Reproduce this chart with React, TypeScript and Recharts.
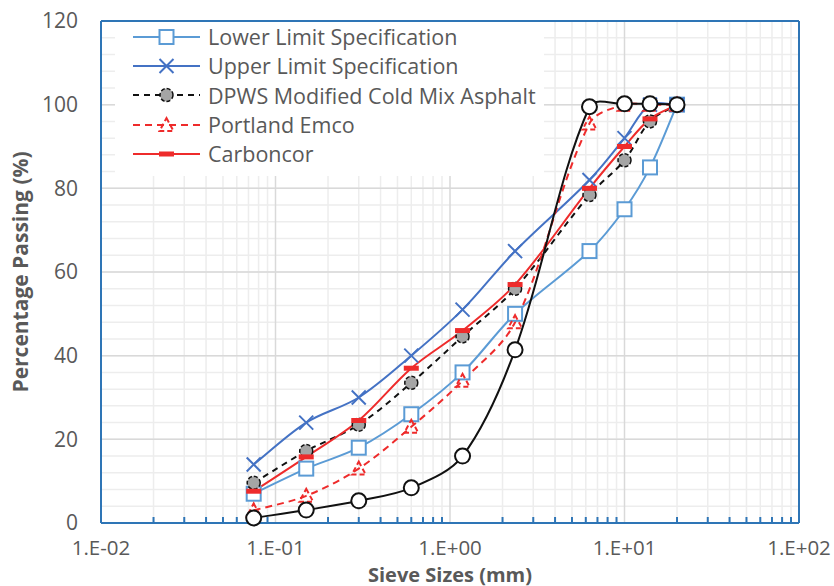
import { LineChart, Line, XAxis, YAxis, CartesianGrid, Legend, Label } from "recharts";

// sieve sizes (mm) shared by every grading curve
const SIEVE_MM = [0.075, 0.15, 0.3, 0.6, 1.18, 2.36, 6.3, 10, 14, 20];

const LOWER_LIMIT = [7, 13, 18, 26, 36, 50, 65, 75, 85, 100];
const UPPER_LIMIT = [14, 24, 30, 40, 51, 65, 82, 92, 100, 100];
const DPWS_MIX = [9.6, 17.2, 23.5, 33.5, 44.6, 56, 78.4, 86.7, 96, 100];
const PORTLAND_EMCO = [3, 6.5, 13, 23, 34, 48, 95.5, 100, 100, 100];
const CARBONCOR = [7.6, 15.8, 24.5, 37, 46, 57, 80, 90, 96.6, 100];
const UNNAMED = [1.2, 3.1, 5.3, 8.4, 16, 41.4, 99.5, 100.2, 100.2, 100];

const X_MAJOR = [0.01, 0.1, 1, 10, 100];
const X_LABELS = ["1.E-02", "1.E-01", "1.E+00", "1.E+01", "1.E+02"];
const Y_MAJOR = [0, 20, 40, 60, 80, 100, 120];

const X_MINOR = [0.01, 0.1, 1, 10].flatMap((d) => [2, 3, 4, 5, 6, 7, 8, 9].map((m) => +(d * m).toPrecision(3)));
const Y_MINOR = Array.from({ length: 31 }, (_, i) => i * 4);

const FONT = "'Open Sans', 'Liberation Sans', sans-serif";
const TEXT = "#595959";
const BORDER = "#2E75B6";
const LIGHT_BLUE = "#5B9BD5";
const DARK_BLUE = "#4472C4";
const RED = "#EE2B2B";

const rows = SIEVE_MM.map((mm, i) => ({
  mm,
  lower: LOWER_LIMIT[i],
  upper: UPPER_LIMIT[i],
  dpws: DPWS_MIX[i],
  portland: PORTLAND_EMCO[i],
  carboncor: CARBONCOR[i],
  unnamed: UNNAMED[i],
}));

// Excel-like smoothed line: bezier through every point, control arms scaled by segment length
function excelSmooth(ctx: any) {
  let pts: number[][] = [];
  const dist = (a: number[], b: number[]) => Math.hypot(b[0] - a[0], b[1] - a[1]);
  return {
    areaStart() {},
    areaEnd() {},
    lineStart() { pts = []; },
    point(x: number, y: number) { pts.push([+x, +y]); },
    lineEnd() {
      const n = pts.length;
      if (!n) return;
      ctx.moveTo(pts[0][0], pts[0][1]);
      for (let i = 0; i < n - 1; i++) {
        const p0 = pts[Math.max(0, i - 1)], p1 = pts[i], p2 = pts[i + 1], p3 = pts[Math.min(n - 1, i + 2)];
        const d01 = dist(p0, p1), d12 = dist(p1, p2), d23 = dist(p2, p3);
        const f1 = d01 + d12 > 0 ? d12 / (d01 + d12) / 3 : 0;
        const f2 = d12 + d23 > 0 ? d12 / (d12 + d23) / 3 : 0;
        ctx.bezierCurveTo(
          p1[0] + (p2[0] - p0[0]) * f1, p1[1] + (p2[1] - p0[1]) * f1,
          p2[0] - (p3[0] - p1[0]) * f2, p2[1] - (p3[1] - p1[1]) * f2,
          p2[0], p2[1],
        );
      }
    },
  };
}

type Marker = "square" | "cross" | "greyCircle" | "triangle" | "dash" | "openCircle";

function drawMarker(kind: Marker, cx: number, cy: number, key?: string) {
  switch (kind) {
    case "square":
      return <rect key={key} x={cx - 7} y={cy - 7} width={14} height={14} fill="#fff" stroke={LIGHT_BLUE} strokeWidth={2} />;
    case "cross":
      return <path key={key} d={`M${cx - 7},${cy - 7}L${cx + 7},${cy + 7}M${cx - 7},${cy + 7}L${cx + 7},${cy - 7}`} stroke={DARK_BLUE} strokeWidth={2} fill="none" />;
    case "greyCircle":
      return <circle key={key} cx={cx} cy={cy} r={6.5} fill="#A5A5A5" stroke="#111" strokeWidth={1.5} strokeDasharray="4 2" />;
    case "triangle":
      return <path key={key} d={`M${cx},${cy - 7}L${cx + 7},${cy + 6}L${cx - 7},${cy + 6}Z`} fill="none" stroke={RED} strokeWidth={2} strokeDasharray="5 3" />;
    case "dash":
      return <rect key={key} x={cx - 7.5} y={cy - 2.5} width={15} height={5} fill={RED} />;
    case "openCircle":
      return <circle key={key} cx={cx} cy={cy} r={7.5} fill="#fff" stroke="#111" strokeWidth={2} />;
  }
}

const SERIES: { key: string; name: string; color: string; dash?: string; marker: Marker; legend: boolean }[] = [
  { key: "lower", name: "Lower Limit Specification", color: LIGHT_BLUE, marker: "square", legend: true },
  { key: "upper", name: "Upper Limit Specification", color: DARK_BLUE, marker: "cross", legend: true },
  { key: "dpws", name: "DPWS Modified Cold Mix Asphalt", color: "#111", dash: "6 5", marker: "greyCircle", legend: true },
  { key: "portland", name: "Portland Emco", color: RED, dash: "7 5", marker: "triangle", legend: true },
  { key: "carboncor", name: "Carboncor", color: RED, marker: "dash", legend: true },
  { key: "unnamed", name: "unnamed", color: "#111", marker: "openCircle", legend: false },
];

function LegendBox({ payload }: any) {
  const shown = new Set((payload ?? []).map((p: any) => p.dataKey));
  const items = SERIES.filter((s) => s.legend && shown.has(s.key));
  return (
    <div style={{ background: "#fff", padding: "0px 8px 8px 18px", fontFamily: FONT, fontSize: 21.5, color: TEXT }}>
      {items.map((s) => (
        <div key={s.key} style={{ display: "flex", alignItems: "center", height: 29.3 }}>
          <svg width={67} height={20} style={{ marginRight: 8 }}>
            <line x1={0} y1={10} x2={67} y2={10} stroke={s.color} strokeWidth={2} strokeDasharray={s.dash} />
            {drawMarker(s.marker, 33.5, 10)}
          </svg>
          <span style={{ whiteSpace: "nowrap" }}>{s.name}</span>
        </div>
      ))}
    </div>
  );
}

const minorVertical = ({ xAxis, offset }: any) =>
  X_MINOR.map((v) =>
    typeof xAxis?.scale === "function" ? xAxis.scale(v) : offset.left + (offset.width * (Math.log10(v) + 2)) / 4,
  );
const minorHorizontal = ({ yAxis, offset }: any) =>
  Y_MINOR.map((v) =>
    typeof yAxis?.scale === "function" ? yAxis.scale(v) : offset.top + offset.height * (1 - v / 120),
  );

export default function App() {
  const yTickStyle = { fill: TEXT, fontSize: 21, fontFamily: FONT };
  const xTickStyle = { fill: TEXT, fontSize: 20.5, fontFamily: FONT };
  return (
    <div style={{ position: "absolute", left: 0, top: 0, width: 834, height: 586, background: "#fff" }}>
      <LineChart width={834} height={586} data={rows} margin={{ top: 21, right: 35, bottom: 0, left: 0 }}>
        <CartesianGrid stroke="#EDEDED" strokeWidth={1.5} verticalCoordinatesGenerator={minorVertical} horizontalCoordinatesGenerator={minorHorizontal} />
        <CartesianGrid stroke="#D9D9D9" strokeWidth={1.5} />

        <XAxis
          dataKey="mm" type="number" scale="log" domain={[0.01, 100]} allowDataOverflow
          ticks={X_MAJOR} tickFormatter={(v) => X_LABELS[X_MAJOR.indexOf(v)] ?? ""}
          height={63} tickLine={false} tickMargin={11} tick={xTickStyle}
          axisLine={{ stroke: BORDER, strokeWidth: 2 }}
        >
          <Label
            content={({ viewBox }: any) => (
              <text x={viewBox.x + viewBox.width / 2} y={viewBox.y + 58.5} textAnchor="middle" fill={TEXT} fontFamily={FONT} fontSize={20} fontWeight="bold">
                Sieve Sizes (mm)
              </text>
            )}
          />
        </XAxis>
        <XAxis
          xAxisId="minor" dataKey="mm" type="number" scale="log" domain={[0.01, 100]} allowDataOverflow
          ticks={[...X_MAJOR, ...X_MINOR]} mirror axisLine={false} tickSize={6}
          tickLine={{ stroke: BORDER, strokeWidth: 2 }} tickFormatter={() => ""}
        />
        <XAxis xAxisId="top" orientation="top" mirror type="number" domain={[0, 1]} tick={false} tickLine={false} axisLine={{ stroke: BORDER, strokeWidth: 2 }} />

        <YAxis
          type="number" domain={[0, 120]} ticks={Y_MAJOR} width={101} tickLine={false} tickMargin={17}
          tick={yTickStyle} axisLine={{ stroke: BORDER, strokeWidth: 2 }}
        >
          <Label
            content={({ viewBox }: any) => {
              const x = 28, y = viewBox.y + viewBox.height / 2;
              return (
                <text x={x} y={y} transform={`rotate(-90 ${x} ${y})`} textAnchor="middle" fill={TEXT} fontFamily={FONT} fontSize={21} fontWeight="bold">
                  Percentage Passing (%)
                </text>
              );
            }}
          />
        </YAxis>
        <YAxis
          yAxisId="minor" type="number" domain={[0, 120]} ticks={Y_MINOR} mirror axisLine={false} tickSize={5}
          tickLine={{ stroke: BORDER, strokeWidth: 2 }} tickFormatter={() => ""}
        />
        <YAxis
          yAxisId="major" type="number" domain={[0, 120]} ticks={Y_MAJOR} mirror axisLine={false} tickSize={8}
          tickLine={{ stroke: BORDER, strokeWidth: 2 }} tickFormatter={() => ""}
        />
        <YAxis yAxisId="right" orientation="right" mirror type="number" domain={[0, 1]} tick={false} tickLine={false} axisLine={{ stroke: BORDER, strokeWidth: 2 }} />

        {SERIES.map((s) => (
          <Line
            key={s.key}
            dataKey={s.key}
            name={s.name}
            type={excelSmooth as any}
            stroke={s.color}
            strokeWidth={2}
            strokeDasharray={s.dash}
            legendType={s.legend ? "line" : "none"}
            dot={(p: any) => drawMarker(s.marker, p.cx, p.cy, `${s.key}-${p.index}`)}
            activeDot={false}
            isAnimationActive={false}
          />
        ))}

        <Legend
          layout="vertical" verticalAlign="middle" align="center"
          content={<LegendBox />}
          wrapperStyle={{ left: 115, top: 22, width: "auto" }}
        />
      </LineChart>
    </div>
  );
}
